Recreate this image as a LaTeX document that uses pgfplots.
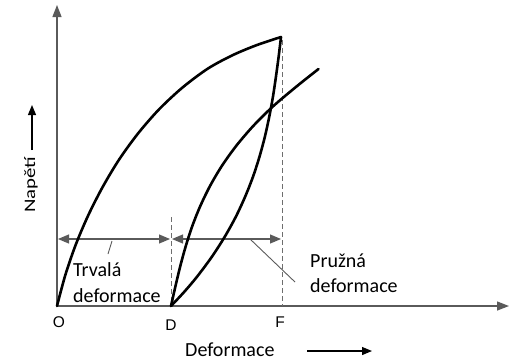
\documentclass[border=0pt]{standalone}
\usepackage{pgfplots}
\pgfplotsset{compat=1.18}
\usepackage{fontspec}
\setmainfont{Carlito}
\newfontfamily\arialf{Liberation Sans}
\usetikzlibrary{arrows.meta}
\definecolor{axgray}{RGB}{90,90,90}
\definecolor{dashgray}{RGB}{110,110,110}
\begin{document}
\begin{tikzpicture}
\begin{axis}[width=510pt,height=360pt,scale only axis,
  xmin=0,xmax=510,ymin=0,ymax=360,y dir=reverse,hide axis,clip=false]
\path[draw=none] (axis cs:0,0) rectangle (axis cs:510,360);
% axes
\addplot[axgray,line width=1.3pt,-{Triangle[length=12pt,width=9pt]}] coordinates {(57,306) (57,5)};
\addplot[axgray,line width=1.3pt,-{Triangle[length=12pt,width=9pt]}] coordinates {(57,306) (509,306)};
% dashed verticals
\addplot[dashgray,line width=0.9pt,dash pattern=on 5pt off 3pt] coordinates {(171,217) (171,306)};
\addplot[dashgray,line width=0.9pt,dash pattern=on 5pt off 3pt] coordinates {(282,40) (282,306)};
% dimension arrows
\addplot[axgray,line width=1.1pt,{Triangle[length=11pt,width=9pt]}-{Triangle[length=11pt,width=9pt]}] coordinates {(58,239) (170,239)};
\addplot[axgray,line width=1.1pt,{Triangle[length=11pt,width=9pt]}-{Triangle[length=11pt,width=9pt]}] coordinates {(172,239) (281,239)};
% leader lines
\addplot[axgray,line width=0.9pt] coordinates {(112,241) (108,254)};
\addplot[axgray,line width=0.9pt] coordinates {(250,239) (295,282)};
% loading curve
\addplot[black,line width=2.6pt,smooth,line cap=round] coordinates {(57,306) (65.3,275.1) (75.7,244.8) (88.2,215.4) (102.7,186.9) (119.2,159.4) (138,133.5) (159,109.4) (182.4,87.6) (208,68.5) (233,55) (257,45) (281,37)};
% unloading curve
\addplot[black,line width=2.6pt,smooth,line cap=round] coordinates {(281,37) (278.6,57) (275.9,77) (272.9,97) (269.2,117) (264.8,137) (259.4,157) (252.9,177) (245,197) (235.7,217) (224.6,237) (211.7,257) (196.8,277) (184.1,292) (171,306)};
% reloading curve
\addplot[black,line width=2.6pt,smooth,line cap=round] coordinates {(171,306) (175.5,286) (180.3,266) (185.8,246) (192.3,226) (200.3,206) (210,186) (221.8,166) (236.1,146) (253.2,126) (273.4,106) (297.1,86) (318.5,69)};
% labels
\node[font=\arialf\fontsize{15.5}{18}\selectfont,anchor=base] at (axis cs:59,327) {O};
\node[font=\arialf\fontsize{15.5}{18}\selectfont,anchor=base] at (axis cs:171,330) {D};
\node[font=\arialf\fontsize{15.5}{18}\selectfont,anchor=base] at (axis cs:280,327) {F};
\node[font=\fontsize{20}{22}\selectfont,anchor=base west,inner sep=0pt] at (axis cs:73,276) {Trvalá};
\node[font=\fontsize{20}{22}\selectfont,anchor=base west,inner sep=0pt] at (axis cs:73,302) {deformace};
\node[font=\fontsize{20}{22}\selectfont,anchor=base west,inner sep=0pt] at (axis cs:310,267) {Pružná};
\node[font=\fontsize{20}{22}\selectfont,anchor=base west,inner sep=0pt] at (axis cs:310,292) {deformace};
\node[font=\fontsize{20}{22}\selectfont,anchor=base west,inner sep=0pt] at (axis cs:185,356) {Deformace};
\addplot[black,line width=1.1pt,-{Triangle[length=10pt,width=8pt]}] coordinates {(307,351) (372,351)};
\node[font=\fontsize{16}{19}\selectfont,anchor=base west,inner sep=0pt,rotate=90] at (axis cs:35,213) {\scalebox{1.3}[1]{Napětí}};
\addplot[black,line width=1.1pt,-{Triangle[length=10pt,width=8pt]}] coordinates {(32,150) (32,105)};
\end{axis}
\end{tikzpicture}
\end{document}
